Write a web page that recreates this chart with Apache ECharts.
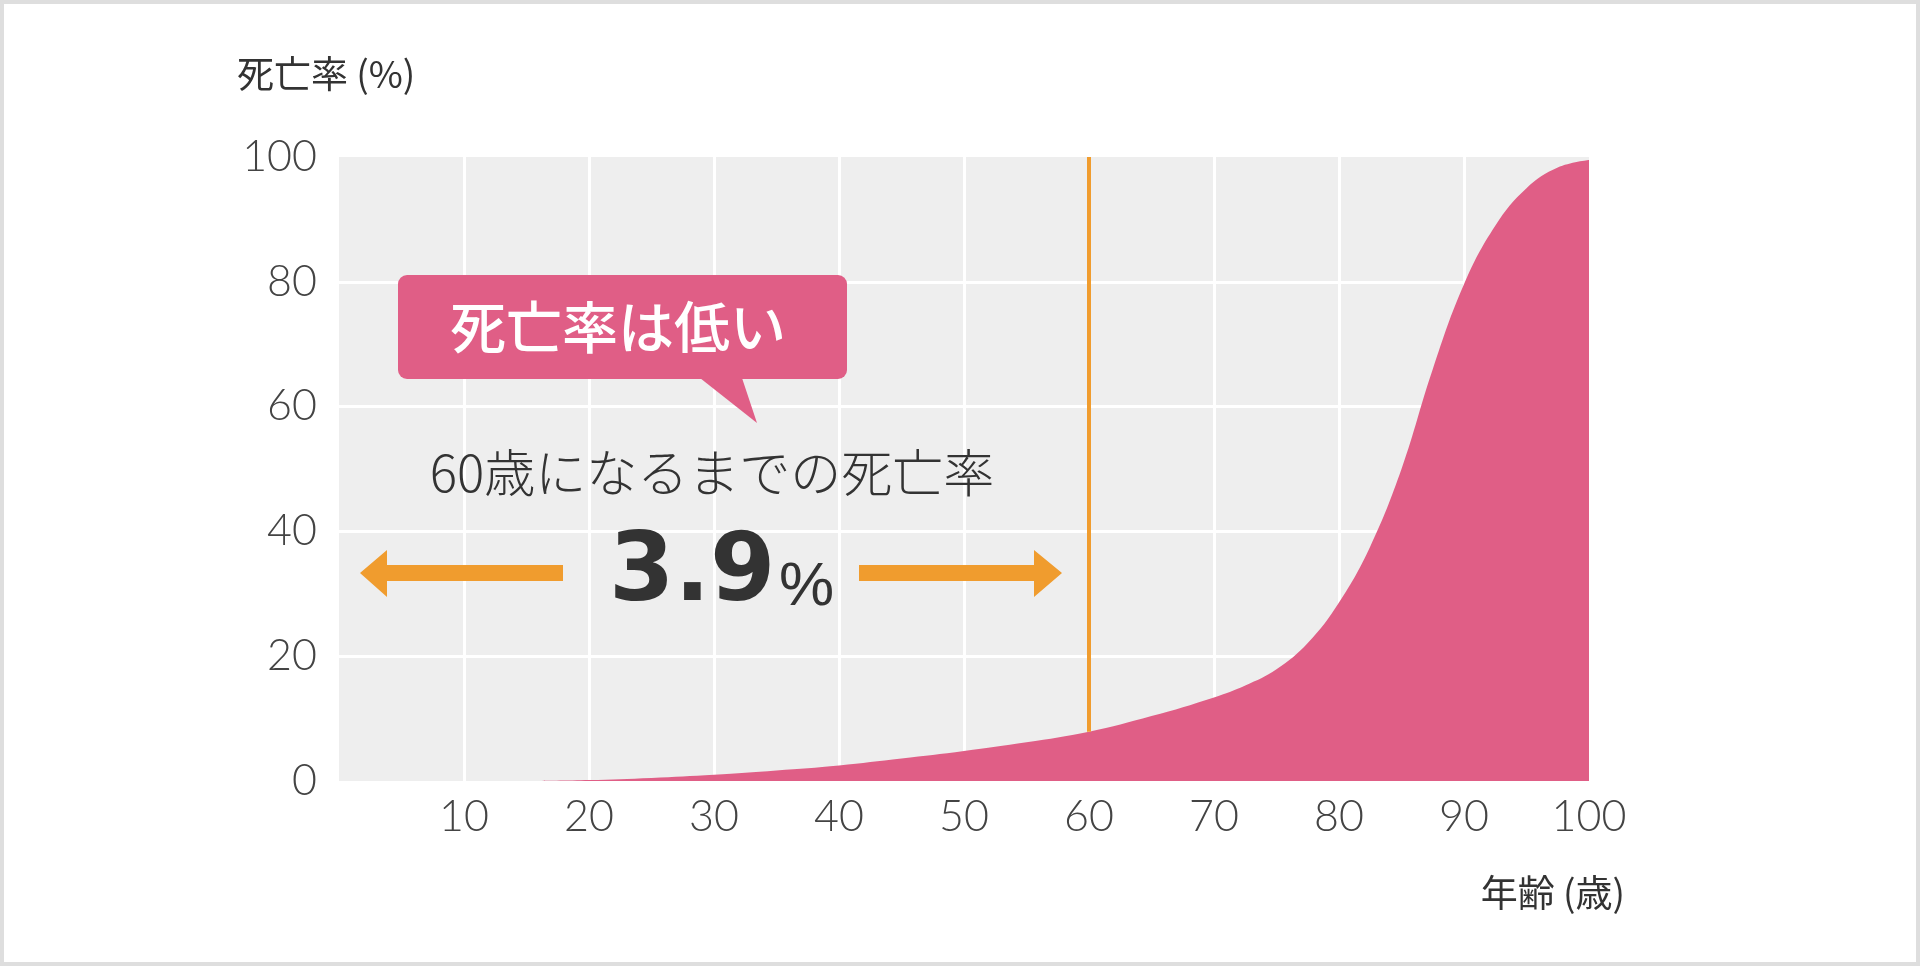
<!DOCTYPE html>
<html>
<head>
<meta charset="utf-8">
<script src="https://cdn.jsdelivr.net/npm/echarts@6.0.0/dist/echarts.min.js"></script>
<style>
  html, body { margin: 0; padding: 0; background: #fff; }
  #chart { width: 1920px; height: 966px; }
</style>
</head>
<body>
<div id="chart"></div>
<script>
// data
var ages  = [16, 20, 25, 30, 35, 40, 45, 50, 55, 60, 65, 70, 72.5, 75, 77.5, 80, 82.5, 85, 87.5, 90, 92.5, 95, 97.5, 100];
var rates = [0, 0.15, 0.5, 1.0, 1.7, 2.5, 3.6, 4.8, 6.2, 7.9, 10.4, 13.4, 15.3, 17.9, 22.1, 28.6, 37.6, 50.0, 66.0, 79.6, 89.0, 95.0, 98.3, 99.5];
var xTicks = [10, 20, 30, 40, 50, 60, 70, 80, 90, 100];
var yTicks = [0, 20, 40, 60, 80, 100];
var refAge = 60;
var refRateText = '3.9';

var pink = '#e05e86';
var orange = '#f09c2e';
var textCol = '#333333';

var seriesData = ages.map(function (a, i) { return [a, rates[i]]; });
var rateAtRef = rates[ages.indexOf(refAge)];

var chart = echarts.init(document.getElementById('chart'));

function txt(x, y, text, size, opts) {
  opts = opts || {};
  return {
    type: 'text', x: x, y: y, z: 100,
    style: {
      text: text,
      fontSize: size,
      fontFamily: opts.family || '"Noto Sans CJK JP", sans-serif',
      fontWeight: opts.weight || 'normal',
      fill: opts.fill || textCol,
      align: opts.align || 'left', textAlign: opts.align || 'left',
      verticalAlign: 'middle', textVerticalAlign: 'middle'
    }
  };
}

var option = {
  animation: false,
  backgroundColor: '#ffffff',
  grid: {
    left: 339, top: 157, width: 1250, height: 624,
    show: true, backgroundColor: '#eeeeee', borderWidth: 0
  },
  xAxis: {
    type: 'value', min: 0, max: 100, interval: 10,
    axisLine: { show: false }, axisTick: { show: false },
    axisLabel: {
      showMinLabel: false, margin: 15,
      fontSize: 43, fontFamily: 'Lato', fontWeight: 300, color: '#444',
      formatter: function (v) { return xTicks.indexOf(v) >= 0 ? String(v) : ''; }
    },
    splitLine: { show: true, showMinLine: false, showMaxLine: false, lineStyle: { color: '#ffffff', width: 3 } }
  },
  yAxis: {
    type: 'value', min: 0, max: 100, interval: 20,
    axisLine: { show: false }, axisTick: { show: false },
    axisLabel: {
      margin: 22,
      fontSize: 43, fontFamily: 'Lato', fontWeight: 300, color: '#444',
      formatter: function (v) { return yTicks.indexOf(v) >= 0 ? String(v) : ''; }
    },
    splitLine: { show: true, showMinLine: false, showMaxLine: false, lineStyle: { color: '#ffffff', width: 3 } }
  },
  series: [{
    type: 'line',
    data: seriesData,
    smooth: 0.4,
    symbol: 'none',
    lineStyle: { width: 0 },
    areaStyle: { color: pink, opacity: 1 },
    z: 3,
    markLine: {
      silent: true, symbol: 'none', label: { show: false },
      lineStyle: { color: orange, width: 4, type: 'solid' },
      data: [[{ coord: [refAge, rateAtRef] }, { coord: [refAge, 100] }]]
    }
  }],
  graphic: [
    // outer frame
    { type: 'rect', shape: { x: 2, y: 2, width: 1916, height: 962 },
      style: { fill: 'none', stroke: '#dedede', lineWidth: 4 }, z: 0, silent: true },
    // axis titles
    txt(237, 74, '死亡率 (%)', 37),
    txt(1625, 893, '年齢 (歳)', 37, { align: 'right' }),
    // callout
    { type: 'rect', shape: { x: 398, y: 275, width: 449, height: 104, r: 9 },
      style: { fill: pink }, z: 90 },
    { type: 'polygon', shape: { points: [[700, 378], [742, 378], [757, 423]] },
      style: { fill: pink }, z: 90 },
    txt(618, 327, '死亡率は低い', 56, { fill: '#ffffff', align: 'center', weight: 500 }),
    txt(712, 473, '60歳になるまでの死亡率', 51, { align: 'center', weight: 300 }),
    // arrows
    { type: 'polygon', z: 90, style: { fill: orange },
      shape: { points: [[360, 573], [387, 550], [387, 565], [563, 565], [563, 581], [387, 581], [387, 597]] } },
    { type: 'polygon', z: 90, style: { fill: orange },
      shape: { points: [[1062, 573], [1034, 550], [1034, 565], [859, 565], [859, 581], [1034, 581], [1034, 597]] } },
    // big figure
    txt(609, 576, refRateText, 94, { family: '"DejaVu Sans", sans-serif', weight: 'bold' }),
    txt(779, 588, '%', 62, { family: '"Liberation Sans", sans-serif' })
  ]
};

chart.setOption(option);
</script>
</body>
</html>
